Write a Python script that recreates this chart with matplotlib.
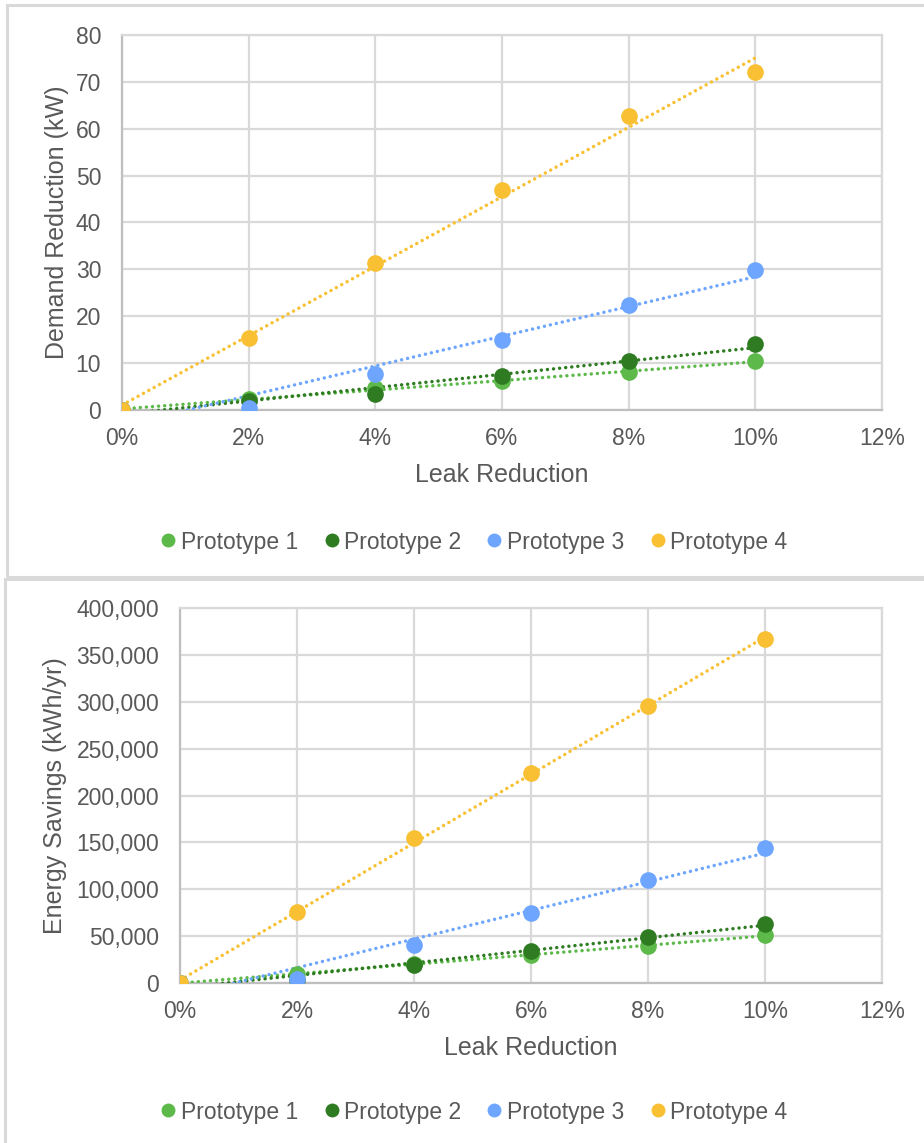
"""Leak reduction vs demand reduction and energy savings, four prototypes (two stacked Excel-style charts)."""

import matplotlib

matplotlib.use("Agg")
import matplotlib.pyplot as plt
import numpy as np
from matplotlib.lines import Line2D
from matplotlib.patches import Rectangle
from matplotlib.ticker import FuncFormatter, MultipleLocator

plt.rcParams["font.family"] = ["Liberation Sans", "DejaVu Sans"]

LEAK_REDUCTION = [0.00, 0.02, 0.04, 0.06, 0.08, 0.10]
SERIES_NAMES = ["Prototype 1", "Prototype 2", "Prototype 3", "Prototype 4"]
COLORS = ["#5DB94A", "#2E7B22", "#6EA6FF", "#F8C032"]

# demand reduction, kW
DEMAND_P1 = [0.0, 2.4, 4.6, 6.2, 8.0, 10.4]
DEMAND_P2 = [0.0, 2.0, 3.5, 7.2, 10.4, 14.1]
DEMAND_P3 = [0.0, 0.5, 7.7, 15.0, 22.4, 29.8]
DEMAND_P4 = [0.0, 15.4, 31.3, 46.9, 62.7, 72.2]

# energy savings, kWh/yr
ENERGY_P1 = [0, 10000, 20000, 30000, 39500, 51000]
ENERGY_P2 = [0, 3000, 19500, 34500, 49000, 63000]
ENERGY_P3 = [0, 4000, 40500, 75000, 110000, 143500]
ENERGY_P4 = [0, 75700, 154500, 224000, 295000, 367000]

TEXT = "#595959"
GRID = "#D9D9D9"
AXIS = "#BFBFBF"
W, H = 924, 1143


def draw_chart(fig, rect, series, ylabel, ymax, ystep, yfmt, ylabel_x, legend_y):
    ax = fig.add_axes(rect)
    x = np.array(LEAK_REDUCTION)
    for vals, name, color in zip(series, SERIES_NAMES, COLORS):
        y = np.array(vals, dtype=float)
        slope, icpt = np.polyfit(x, y, 1)  # excel-style linear trendline
        xs = np.array([x.min(), x.max()])
        ax.plot(xs, slope * xs + icpt, color=color, linestyle=(0, (0.01, 1.75)),
                dash_capstyle="round", linewidth=2.5, zorder=3)
        ax.plot(x, y, "o", color=color, markersize=12, label=name, zorder=4,
                markeredgewidth=0)
    ax.set_xlim(0, 0.12)
    ax.set_ylim(0, ymax)
    ax.xaxis.set_major_locator(MultipleLocator(0.02))
    ax.yaxis.set_major_locator(MultipleLocator(ystep))
    ax.xaxis.set_major_formatter(FuncFormatter(lambda v, _: f"{v * 100:.0f}%"))
    ax.yaxis.set_major_formatter(FuncFormatter(yfmt))
    ax.grid(True, color=GRID, linewidth=1.6, zorder=0)
    ax.set_axisbelow(True)
    for side in ["top", "right"]:
        ax.spines[side].set_color(GRID)
        ax.spines[side].set_linewidth(1.6)
    for side in ["left", "bottom"]:
        ax.spines[side].set_color(AXIS)
        ax.spines[side].set_linewidth(1.6)
    ax.tick_params(length=0, labelsize=16.5, labelcolor=TEXT)
    ax.tick_params(axis="x", pad=12)
    ax.tick_params(axis="y", pad=15)
    for lab in ax.get_xticklabels() + ax.get_yticklabels():
        lab.set_clip_on(False)
    ax.set_xlabel("Leak Reduction", fontsize=18, color=TEXT)
    ax.xaxis.set_label_coords(0.5, -0.173)
    ax.xaxis.label.set_va("center")
    ax.set_ylabel(ylabel, fontsize=18, color=TEXT)
    ax.yaxis.set_label_coords(ylabel_x, 0.5)
    ax.yaxis.label.set_va("center")

    handles = [Line2D([], [], linestyle="none", marker="o", markersize=10, color=c,
                      markeredgewidth=0) for c in COLORS]
    fig.legend(handles, SERIES_NAMES, loc="center", bbox_to_anchor=(475 / W, 1 - legend_y / H),
               ncol=4, frameon=False, fontsize=16.5, labelcolor=TEXT, handlelength=0.5,
               handletextpad=0.3, columnspacing=1.2, borderpad=0)
    return ax


fig = plt.figure(figsize=(W / 100, H / 100), dpi=100)

# chart frames (both run off the right / bottom edge of the screenshot)
fig.patches.append(Rectangle((7 / W, 1 - 577 / H), 1.2, 572 / H, transform=fig.transFigure,
                             fill=False, edgecolor=GRID, linewidth=2.2))
fig.patches.append(Rectangle((5 / W, -0.1), 1.2, (1143 - 579) / H + 0.1, transform=fig.transFigure,
                             fill=False, edgecolor=GRID, linewidth=2.2))

draw_chart(
    fig,
    [122 / W, 1 - 410 / H, 760 / W, 375 / H],
    [DEMAND_P1, DEMAND_P2, DEMAND_P3, DEMAND_P4],
    "Demand Reduction (kW)", 80, 10, lambda v, _: f"{v:.0f}",
    (57 - 122) / 760, 542,
)
draw_chart(
    fig,
    [180 / W, 1 - 983 / H, 702 / W, 375 / H],
    [ENERGY_P1, ENERGY_P2, ENERGY_P3, ENERGY_P4],
    "Energy Savings (kWh/yr)", 400000, 50000, lambda v, _: f"{v:,.0f}",
    (55 - 180) / 702, 1112,
)

fig.savefig("out.png", dpi=100)
